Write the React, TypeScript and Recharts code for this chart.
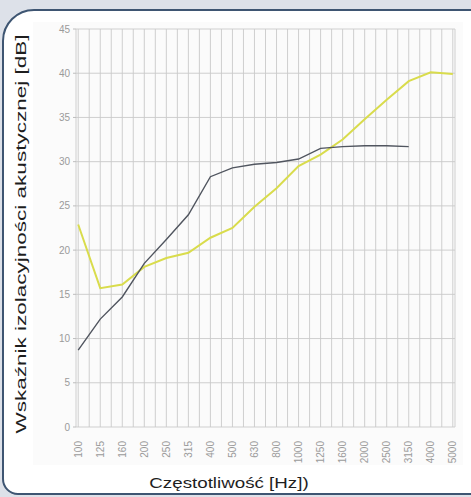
import React from 'react';
import { LineChart, Line, XAxis, YAxis, CartesianGrid } from 'recharts';

const frequencies = ['100', '125', '160', '200', '250', '315', '400', '500', '630', '800', '1000', '1250', '1600', '2000', '2500', '3150', '4000', '5000'];
const darkSeries = [8.7, 12.2, 14.7, 18.5, 21.2, 24.0, 28.3, 29.3, 29.7, 29.9, 30.3, 31.5, 31.7, 31.8, 31.8, 31.7];
const yellowSeries = [22.9, 15.7, 16.1, 18.1, 19.1, 19.7, 21.4, 22.5, 24.9, 27.0, 29.5, 30.8, 32.5, 34.8, 37.0, 39.1, 40.1, 39.9];
const yTicks = [0, 5, 10, 15, 20, 25, 30, 35, 40, 45];

const data = frequencies.map((f, i) => ({
  i,
  freq: f,
  dark: darkSeries[i],
  yellow: yellowSeries[i],
}));

// grid lines sit on every category and halfway between
const gridTicks: number[] = [];
for (let k = 0; k <= (frequencies.length - 1) * 2; k++) gridTicks.push(k / 2);

const FreqTick = (props: any) => {
  const { x, y, payload } = props;
  const v = payload.value;
  if (!Number.isInteger(v)) return null;
  return (
    <text
      x={x}
      y={y + 6}
      transform={`rotate(-90 ${x} ${y + 6})`}
      textAnchor="end"
      dominantBaseline="central"
      fontSize={10}
      fill="#9a9a9a"
      fontFamily="Liberation Sans, Arial, sans-serif"
    >
      {frequencies[v]}
    </text>
  );
};

const App = () => {
  return (
    <div
      style={{
        position: 'fixed',
        left: 0,
        top: 0,
        width: 471,
        height: 497,
        overflow: 'hidden',
        background: '#dde1e9',
        fontFamily: 'Liberation Sans, Arial, sans-serif',
      }}
    >
      <div
        style={{
          position: 'absolute',
          left: 2,
          top: 9,
          width: 490,
          height: 482,
          border: '2px solid #3e5572',
          borderRadius: '32px 26px 24px 16px',
          background: '#ffffff',
        }}
      />
      <div
        style={{
          position: 'absolute',
          left: 33,
          top: 22,
          width: 430,
          height: 443,
          background: '#fbfbfb',
        }}
      />
      <div style={{ position: 'absolute', left: 0, top: 0 }}>
        <LineChart
          width={471}
          height={497}
          data={data}
          margin={{ top: 29, right: 16, bottom: 40, left: 46 }}
        >
          <CartesianGrid stroke="#c9c9c9" strokeWidth={0.9} />
          <XAxis
            dataKey="i"
            type="number"
            domain={[-0.1, 17.1]}
            ticks={gridTicks}
            interval={0}
            tick={<FreqTick />}
            tickLine={false}
            axisLine={false}
            height={30}
          />
          <YAxis
            domain={[0, 45]}
            ticks={yTicks}
            width={30}
            axisLine={false}
            tickSize={3}
            tickMargin={3}
            tickLine={{ stroke: '#bdbdbd' }}
            tick={{ fontSize: 10, fill: '#9a9a9a' }}
          />
          <Line
            type="linear"
            dataKey="yellow"
            stroke="#d9dc4c"
            strokeWidth={2}
            dot={false}
            isAnimationActive={false}
          />
          <Line
            type="linear"
            dataKey="dark"
            stroke="#50555f"
            strokeWidth={1.4}
            dot={false}
            isAnimationActive={false}
          />
        </LineChart>
      </div>
      <div
        style={{
          position: 'absolute',
          left: 20,
          top: 234,
          transform: 'translate(-50%, -50%) rotate(-90deg) scaleX(1.5)',
          whiteSpace: 'nowrap',
          fontSize: 15,
          color: '#1e1e1e',
        }}
      >
        Wskaźnik izolacyjności akustycznej [dB]
      </div>
      <div
        style={{
          position: 'absolute',
          left: 229,
          top: 482,
          transform: 'translate(-50%, -50%) scaleX(1.25)',
          whiteSpace: 'nowrap',
          fontSize: 15,
          color: '#1e1e1e',
        }}
      >
        Częstotliwość [Hz])
      </div>
    </div>
  );
};

export default App;
